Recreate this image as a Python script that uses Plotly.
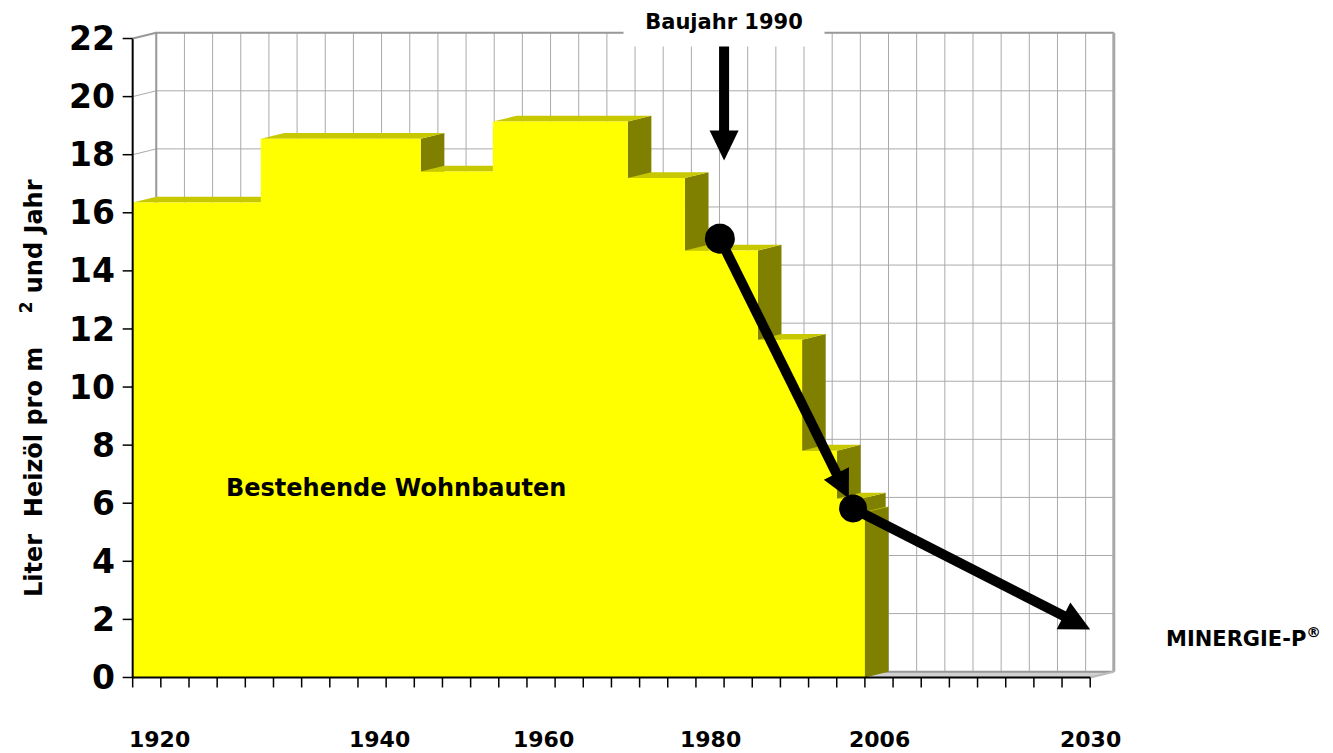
import math
import plotly.graph_objects as go

# ---------------- data ----------------
# building periods expressed in category slots of the x axis (34 slots 1920..2030)
period_start = [0.0, 4.55, 10.23, 12.79, 17.58, 19.61, 22.20, 23.77, 25.01, 25.90]
period_end = [4.55, 10.23, 12.79, 17.58, 19.61, 22.20, 23.77, 25.01, 25.90, 26.0]
heizoel = [16.35, 18.55, 17.42, 19.14, 17.2, 14.7, 11.63, 7.81, 6.16, 5.68]

n_slots = 34
year_labels = ["1920", "1940", "1960", "1980", "2006", "2030"]
year_label_pos = [0.96, 8.77, 14.6, 20.5, 26.53, 34.0]
y_ticks = list(range(0, 23, 2))

# trend arrows (points in slot / litre units)
trend1_x = [20.85, 25.43]
trend1_y = [15.11, 6.16]
trend2_x = [25.58, 34.0]
trend2_y = [5.82, 1.65]
dot_x = [20.85, 25.58]
dot_y = [15.11, 5.82]
dot_r_px = [15, 14]
baujahr_x = [21.0, 21.0]
baujahr_y = [21.76, 17.8]

# ---------------- geometry of the pseudo-3D view ----------------
X_MIN, X_MAX = -0.45, 35.2
Y_MIN, Y_MAX = -0.5, 22.5
FIG_W, FIG_H = 1333, 753
L_PAGE, T_PAGE = 120, 24          # plot area position on the page
W_PX, H_PX = 1004, 668
ML, MT = L_PAGE, T_PAGE
MR, MB = FIG_W - ML - W_PX, FIG_H - MT - H_PX
BOTTOM_PAGE = T_PAGE + H_PX
PX = W_PX / (X_MAX - X_MIN)   # pixels per x unit
PY = H_PX / (Y_MAX - Y_MIN)   # pixels per y unit
DX = 23.6 / PX                # depth offset
DY = 5.8 / PY


def paper_x(px):
    return (px - L_PAGE) / W_PX


def paper_y(py):
    return (BOTTOM_PAGE - py) / H_PX


FONT = "DejaVu Sans, Liberation Sans, Arial, sans-serif"
YELLOW = "#FFFF00"
TOPC = "#C8C800"
SIDEC = "#808000"
GRID = "#AAAAAA"

fig = go.Figure()


def seg_trace(xs, ys, color, width):
    fig.add_trace(go.Scatter(x=xs, y=ys, mode="lines",
                             line=dict(color=color, width=width),
                             hoverinfo="skip", showlegend=False))


def poly_trace(xs, ys, color):
    fig.add_trace(go.Scatter(x=xs, y=ys, fill="toself", fillcolor=color, mode="lines",
                             line=dict(width=0, color=color), hoverinfo="skip",
                             showlegend=False))


# floor
fx = [0, n_slots, n_slots + DX, DX, 0]
fy = [0, 0, DY, DY, 0]
fig.add_trace(go.Scatter(x=fx, y=fy, fill="toself", fillcolor="#D0D0D0",
                         mode="lines", line=dict(color="#B0B0B0", width=1),
                         hoverinfo="skip", showlegend=False))

# back wall grid
gx, gy = [], []
for k in range(n_slots + 1):
    gx += [k + DX, k + DX, None]
    gy += [DY, y_ticks[-1] + DY, None]
for v in y_ticks[1:]:
    gx += [DX, n_slots + DX, None]
    gy += [v + DY, v + DY, None]
# left wall diagonals
for v in y_ticks[1:]:
    gx += [0, DX, None]
    gy += [v, v + DY, None]
seg_trace(gx, gy, GRID, 1)

# wall borders
seg_trace([DX, DX, n_slots + DX], [DY, y_ticks[-1] + DY, y_ticks[-1] + DY], "#999999", 2)
seg_trace([n_slots + DX, n_slots + DX], [DY, y_ticks[-1] + DY], "#A8A8A8", 3)
seg_trace([DX, n_slots + DX], [DY, DY], "#999999", 2)
seg_trace([n_slots, n_slots + DX], [0, DY], "#BBBBBB", 2)

# columns: sides, tops, then the front outline
sx, sy, tx, ty = [], [], [], []
for x0, x1, v in zip(period_start, period_end, heizoel):
    sx += [x1, x1 + DX, x1 + DX, x1, x1, None]
    sy += [0, DY, v + DY, v, 0, None]
    tx += [x0, x1, x1 + DX, x0 + DX, x0, None]
    ty += [v, v, v + DY, v + DY, v, None]
poly_trace(sx, sy, SIDEC)
poly_trace(tx, ty, TOPC)
ox, oy = [period_start[0]], [0]
for x0, x1, v in zip(period_start, period_end, heizoel):
    ox += [x0, x1]
    oy += [v, v]
ox += [period_end[-1], period_start[0]]
oy += [0, 0]
poly_trace(ox, oy, YELLOW)

# front axes
seg_trace([0, n_slots, None, 0, 0], [0, 0, None, 0, y_ticks[-1]], "black", 2)
seg_trace([0, DX], [y_ticks[-1], y_ticks[-1] + DY], "#999999", 2)
tkx, tky = [], []
for k in range(n_slots + 1):
    tkx += [k, k, None]
    tky += [0, -10 / PY, None]
for v in y_ticks:
    tkx += [-10 / PX, 0, None]
    tky += [v, v, None]
seg_trace(tkx, tky, "black", 1.5)


def arrow(xs, ys, width, head_len, head_w):
    # shaft and triangular head computed in screen space
    x0, y0, x1, y1 = xs[0], ys[0], xs[1], ys[1]
    dxp, dyp = (x1 - x0) * PX, (y1 - y0) * PY
    ln = math.hypot(dxp, dyp)
    ux, uy = dxp / ln, dyp / ln
    bx, by = x1 - ux * head_len / PX, y1 - uy * head_len / PY
    nx, ny = -uy, ux
    seg_trace([x0, bx + ux * 2 / PX], [y0, by + uy * 2 / PY], "black", width)
    hx = [x1, bx + nx * head_w / 2 / PX, bx - nx * head_w / 2 / PX, x1]
    hy = [y1, by + ny * head_w / 2 / PY, by - ny * head_w / 2 / PY, y1]
    poly_trace(hx, hy, "black")


arrow(baujahr_x, baujahr_y, 10, 30, 29)
arrow(trend1_x, trend1_y, 10, 28, 28)
arrow(trend2_x, trend2_y, 10, 30, 30)

# round markers at the two data points
cx, cy = [], []
for x, y, r in zip(dot_x, dot_y, dot_r_px):
    for i in range(41):
        a = 2 * math.pi * i / 40
        cx.append(x + r * math.cos(a) / PX)
        cy.append(y + r * math.sin(a) / PY)
    cx.append(None)
    cy.append(None)
poly_trace(cx, cy, "black")

# ---------------- texts ----------------
ann = []
for lab, pos in zip(year_labels, year_label_pos):
    ann.append(dict(x=pos, xref="x", y=paper_y(740), yref="paper",
                    xanchor="center", yanchor="middle",
                    text=lab, showarrow=False,
                    font=dict(family=FONT, size=22, color="black", weight="bold")))
ann.append(dict(x=paper_x(32), xref="paper", y=paper_y(388), yref="paper",
                xanchor="center", yanchor="middle",
                text="Liter  Heizöl pro m    <sup>2</sup> und Jahr", textangle=-90,
                showarrow=False, font=dict(family=FONT, size=24, color="black", weight="bold")))
ann.append(dict(x=baujahr_x[0], xref="x", y=paper_y(22), yref="paper",
                xanchor="center", yanchor="middle",
                text="Baujahr 1990", showarrow=False, bgcolor="white", width=176,
                borderpad=12, font=dict(family=FONT, size=21, color="black", weight="bold")))
ann.append(dict(x=9.34, xref="x", y=6.54, yref="y", text="Bestehende Wohnbauten",
                xanchor="center", yanchor="middle",
                showarrow=False, font=dict(family=FONT, size=24, color="black", weight="bold")))
ann.append(dict(x=paper_x(1243), xref="paper", y=1.38, yref="y", text="MINERGIE-P<sup>®</sup>",
                xanchor="center", yanchor="middle",
                showarrow=False, font=dict(family=FONT, size=21, color="black", weight="bold")))

fig.update_layout(
    width=FIG_W, height=FIG_H,
    margin=dict(l=ML, r=MR, t=MT, b=MB),
    paper_bgcolor="white", plot_bgcolor="white",
    showlegend=False,
    annotations=ann,
    xaxis=dict(range=[X_MIN, X_MAX], showgrid=False, zeroline=False,
               showticklabels=False, ticks="", showline=False, fixedrange=True),
    yaxis=dict(range=[Y_MIN, Y_MAX], showgrid=False, zeroline=False,
               tickvals=y_ticks, ticktext=[str(v) for v in y_ticks], ticks="",
               ticklabelstandoff=4, showline=False, fixedrange=True,
               tickfont=dict(family=FONT, size=33, color="black", weight="bold")),
)

# remove the default page margin so the figure fills the window exactly
fig.write_html("out.html", config={"displayModeBar": False},
               post_script="document.body.style.margin='0';document.body.style.overflow='hidden';")
